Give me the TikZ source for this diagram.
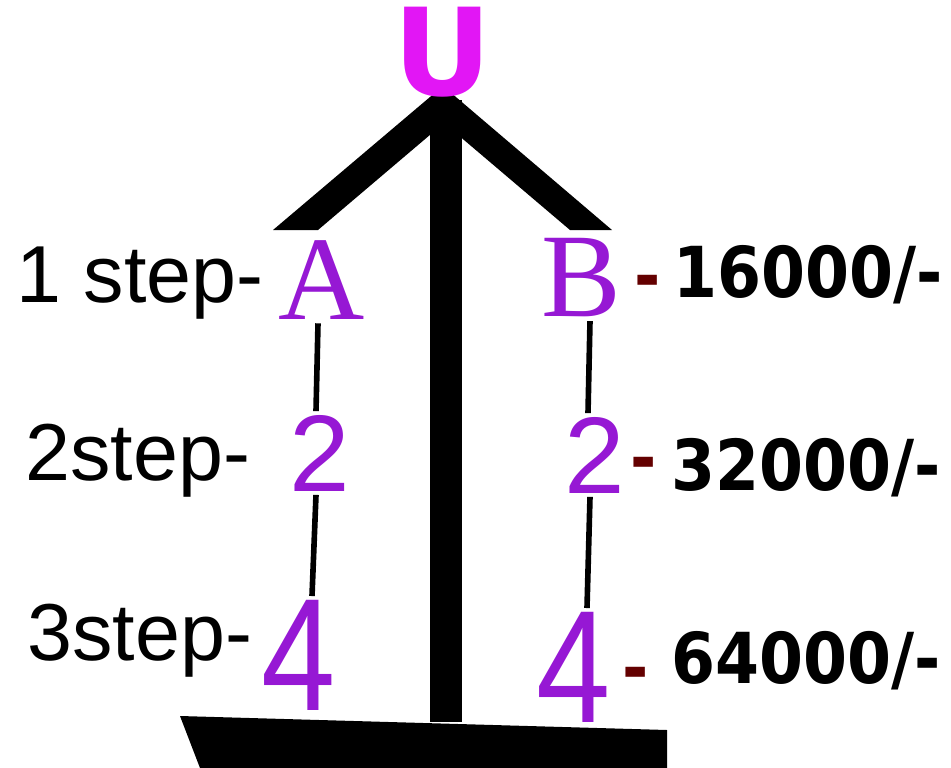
\documentclass[tikz,border=0pt]{standalone}
\usepackage{fontspec}
\setmainfont{Liberation Sans}
\newfontfamily\letterfont{Liberation Serif}
\newfontfamily\pricefont{DejaVu Sans}
\newfontfamily\pricenarrow{DejaVu Sans}[FakeStretch=0.9]
\usetikzlibrary{positioning}
\definecolor{upink}{RGB}{226,22,245}
\definecolor{levpurple}{RGB}{150,24,212}
\definecolor{dashred}{RGB}{100,0,0}

\begin{document}
\begin{tikzpicture}[x=0.02cm,y=-0.02cm,
    steplabel/.style={anchor=base west,inner sep=0pt,font=\fontsize{46}{50}\selectfont},
    letter/.style={inner sep=2pt,text=levpurple,font=\letterfont\fontsize{68}{70}\selectfont},
    twonum/.style={inner sep=2pt,text=levpurple,font=\fontsize{62}{66}\selectfont},
    fournum/.style={inner sep=2pt,text=levpurple,font=\fontsize{76}{80}\selectfont},
    price/.style={anchor=base west,inner sep=0pt,font=\pricenarrow\bfseries\fontsize{40}{42}\selectfont},
    pricedash/.style={anchor=base,inner sep=0pt,text=dashred,font=\pricenarrow\bfseries\fontsize{40}{42}\selectfont},
    link/.style={line width=3.2pt}
]
    \useasboundingbox (0,0) rectangle (951,768);
    \fill (273,230) [rounded corners=4pt] -- (443,86) [sharp corners] -- (612,230)
        -- (570,230) -- (444,123) -- (318,230) -- cycle;
    \fill (430,100) rectangle (462,722);
    \fill (180,716) -- (667,730) -- (667,768) -- (200,768) -- cycle;

    \node[text=upink,inner sep=0pt,font=\pricefont\bfseries\fontsize{69}{70}\selectfont] (U) at (443,52) {U};

    \node[letter] (A) at (322,280) {A};
    \node[twonum] (L2) at (320,453) {2};
    \node[fournum] (L4) at (299,655) {\scalebox{1}[1.2]{4}};
    \node[letter] (B) at (581,278) {B};
    \node[twonum] (R2) at (595,455) {2};
    \node[fournum] (R4) at (574,667) {\scalebox{1}[1.2]{4}};

    \draw[link] ([xshift=-0.08cm]A.south) -- ([xshift=-0.08cm]L2.north);
    \draw[link] ([xshift=-0.08cm]L2.south) -- ([xshift=0.26cm]L4.north);
    \draw[link] ([xshift=0.18cm]B.south) -- ([xshift=-0.14cm]R2.north);
    \draw[link] ([xshift=-0.1cm]R2.south) -- ([xshift=0.26cm]R4.north);

    \node[steplabel] (s1) at (16,302) {1 step-};
    \node[steplabel] (s2) at (25,480) {2step-};
    \node[steplabel] (s3) at (27,660) {3step-};

    \node[pricedash] (d1) at (648,300) {-};
    \node[pricedash] (d2) at (644,482) {-};
    \node[pricedash] (d3) at (636,692) {-};
    \node[price] (p1) at (673,297) {16000/-};
    \node[price] (p2) at (671,490) {32000/-};
    \node[price] (p3) at (671,683) {64000/-};
\end{tikzpicture}
\end{document}
